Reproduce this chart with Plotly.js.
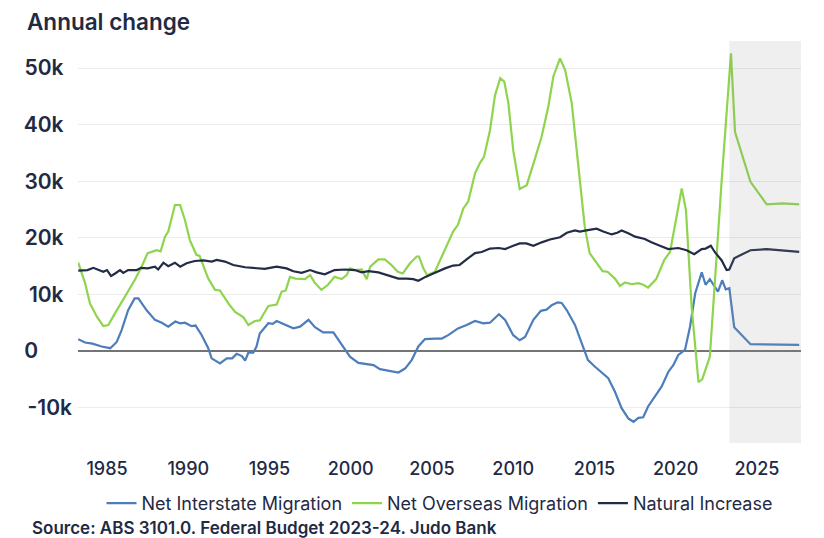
<!DOCTYPE html>
<html>
<head>
<meta charset="utf-8">
<script src="https://cdn.plot.ly/plotly-3.0.1.min.js"></script>
<style>
  html, body { margin: 0; padding: 0; background: #ffffff; }
  #chart { width: 824px; height: 538px; }
</style>
</head>
<body>
<div id="chart"></div>
<script>
// ---- Data (annual change, thousands of persons) ----
var interstateYears = [1983.23, 1983.65, 1984.1, 1984.67, 1985.2, 1985.6, 1985.9, 1986.3, 1986.7, 1986.93, 1987.44, 1987.95, 1988.37, 1988.77, 1989.2, 1989.5, 1989.8, 1990.2, 1990.45, 1990.83, 1991.23, 1991.44, 1991.95, 1992.37, 1992.7, 1992.98, 1993.3, 1993.5, 1993.7, 1994.0, 1994.2, 1994.4, 1994.93, 1995.2, 1995.44, 1995.95, 1996.47, 1996.88, 1997.4, 1997.8, 1998.3, 1998.93, 1999.34, 1999.95, 2000.47, 2001.4, 2001.8, 2002.3, 2002.93, 2003.34, 2003.75, 2004.16, 2004.57, 2005.18, 2005.6, 2006.0, 2006.6, 2007.13, 2007.65, 2008.16, 2008.57, 2009.12, 2009.5, 2010.0, 2010.4, 2010.73, 2011.24, 2011.7, 2012.05, 2012.37, 2012.73, 2012.98, 2013.3, 2013.8, 2014.2, 2014.6, 2015.0, 2015.44, 2015.85, 2016.26, 2016.67, 2017.08, 2017.4, 2017.7, 2018.0, 2018.3, 2018.7, 2019.13, 2019.54, 2019.85, 2020.16, 2020.57, 2020.88, 2021.2, 2021.6, 2021.84, 2022.1, 2022.4, 2022.6, 2022.86, 2023.08, 2023.3, 2023.6, 2024.6, 2025.6, 2026.6, 2027.6];
var interstateValues = [2.1, 1.5, 1.3, 0.8, 0.5, 1.6, 3.7, 7.2, 9.3, 9.3, 7.2, 5.5, 5.0, 4.3, 5.2, 4.9, 5.0, 4.4, 4.5, 2.8, 0.5, -1.3, -2.2, -1.3, -1.3, -0.5, -0.9, -1.7, -0.3, -0.3, 0.8, 3.1, 4.9, 4.8, 5.3, 4.6, 4.0, 4.3, 5.5, 4.2, 3.3, 3.3, 1.6, -1.0, -2.1, -2.5, -3.2, -3.5, -3.8, -3.1, -1.6, 0.8, 2.1, 2.2, 2.2, 2.8, 4.0, 4.6, 5.3, 4.9, 5.0, 6.5, 5.5, 2.8, 1.9, 2.5, 5.5, 7.1, 7.3, 8.1, 8.6, 8.5, 7.2, 4.6, 1.6, -1.6, -2.7, -3.7, -4.8, -7.2, -10.1, -11.9, -12.5, -11.8, -11.7, -9.8, -8.1, -6.3, -3.7, -2.5, -0.7, 0.2, 4.3, 10.2, 13.9, 11.7, 12.7, 11.4, 10.5, 12.5, 10.9, 11.1, 4.2, 1.2, 1.2, 1.15, 1.1];

var overseasYears = [1983.23, 1983.65, 1983.95, 1984.37, 1984.77, 1985.08, 1985.5, 1986.1, 1986.7, 1987.13, 1987.5, 1988.06, 1988.3, 1988.57, 1988.77, 1989.18, 1989.5, 1989.8, 1990.1, 1990.5, 1990.7, 1991.23, 1991.65, 1991.95, 1992.47, 1992.88, 1993.4, 1993.7, 1994.1, 1994.4, 1994.93, 1995.44, 1995.75, 1996.0, 1996.26, 1996.6, 1996.9, 1997.18, 1997.5, 1997.8, 1998.2, 1998.6, 1999.0, 1999.45, 1999.75, 1999.95, 2000.25, 2000.67, 2000.98, 2001.2, 2001.7, 2002.1, 2002.5, 2002.9, 2003.2, 2003.65, 2004.06, 2004.2, 2004.47, 2004.7, 2005.18, 2005.5, 2005.9, 2006.3, 2006.6, 2006.93, 2007.23, 2007.65, 2007.95, 2008.2, 2008.57, 2008.88, 2009.2, 2009.45, 2009.7, 2010.0, 2010.4, 2010.83, 2011.34, 2011.75, 2012.16, 2012.47, 2012.88, 2013.2, 2013.6, 2014.0, 2014.4, 2014.7, 2015.2, 2015.5, 2015.8, 2016.26, 2016.57, 2016.88, 2017.3, 2017.7, 2018.0, 2018.3, 2018.8, 2019.3, 2019.65, 2019.95, 2020.37, 2020.63, 2020.98, 2021.4, 2021.63, 2022.1, 2022.4, 2022.83, 2023.4, 2023.65, 2024.6, 2025.6, 2026.6, 2027.6];
var overseasValues = [15.6, 12.0, 8.4, 6.1, 4.4, 4.6, 6.7, 9.6, 12.5, 14.9, 17.3, 17.8, 17.6, 20.2, 21.1, 25.8, 25.8, 23.1, 19.6, 17.0, 16.8, 12.8, 10.8, 10.7, 8.4, 6.9, 5.95, 4.6, 5.3, 5.4, 7.95, 8.2, 10.5, 10.7, 13.1, 12.8, 12.7, 12.7, 13.4, 12.0, 10.8, 11.7, 13.1, 12.7, 13.4, 14.6, 14.3, 14.4, 12.7, 14.9, 16.2, 16.2, 15.2, 14.0, 13.7, 15.5, 16.7, 16.7, 14.6, 13.4, 14.0, 16.1, 18.4, 21.1, 22.3, 25.2, 26.4, 31.4, 33.2, 34.3, 39.0, 45.2, 48.2, 47.6, 43.8, 35.5, 28.6, 29.3, 34.0, 37.9, 43.2, 48.5, 51.7, 49.6, 43.8, 33.2, 22.0, 17.3, 15.2, 14.1, 14.0, 12.8, 11.5, 12.1, 11.8, 12.0, 11.7, 11.2, 12.7, 16.1, 17.5, 22.0, 28.7, 24.9, 7.8, -5.5, -5.0, -1.0, 12.5, 30.2, 52.6, 38.7, 29.9, 25.9, 26.1, 25.9];

var naturalYears = [1983.23, 1983.8, 1984.16, 1984.5, 1984.77, 1985.0, 1985.25, 1985.5, 1985.8, 1986.0, 1986.3, 1986.83, 1987.1, 1987.5, 1987.95, 1988.15, 1988.47, 1988.77, 1989.18, 1989.5, 1989.9, 1990.4, 1990.93, 1991.45, 1991.75, 1992.26, 1992.77, 1993.5, 1994.2, 1994.7, 1995.44, 1996.05, 1996.47, 1996.98, 1997.5, 1997.9, 1998.4, 1999.0, 1999.65, 2000.25, 2000.67, 2001.1, 2001.7, 2002.3, 2002.93, 2003.45, 2003.85, 2004.16, 2004.6, 2005.08, 2005.5, 2005.8, 2006.3, 2006.7, 2007.23, 2007.65, 2008.06, 2008.57, 2009.1, 2009.5, 2010.0, 2010.4, 2010.8, 2011.24, 2011.75, 2012.26, 2012.88, 2013.3, 2013.8, 2014.1, 2014.5, 2015.13, 2015.54, 2016.06, 2016.4, 2016.67, 2017.08, 2017.5, 2018.1, 2018.5, 2019.03, 2019.54, 2020.16, 2020.67, 2021.14, 2021.6, 2021.84, 2022.16, 2022.4, 2022.83, 2023.13, 2023.3, 2023.6, 2024.6, 2025.6, 2026.6, 2027.6];
var naturalValues = [14.2, 14.3, 14.7, 14.3, 14.0, 14.3, 13.25, 13.7, 14.3, 13.8, 14.3, 14.3, 14.7, 14.6, 14.9, 14.4, 15.6, 15.0, 15.6, 14.9, 15.5, 15.9, 16.0, 15.8, 16.1, 15.8, 15.2, 14.8, 14.6, 14.5, 14.9, 14.6, 14.1, 13.8, 14.3, 13.9, 13.55, 14.3, 14.4, 14.3, 13.9, 14.1, 13.9, 13.4, 12.8, 12.8, 12.7, 12.4, 13.1, 13.7, 14.3, 14.6, 15.1, 15.2, 16.4, 17.3, 17.5, 18.1, 18.2, 18.0, 18.6, 19.0, 19.0, 18.6, 19.2, 19.7, 20.1, 20.9, 21.3, 21.1, 21.3, 21.6, 21.1, 20.6, 20.9, 21.3, 20.8, 20.2, 19.8, 19.2, 18.6, 18.0, 18.2, 17.8, 17.1, 18.0, 18.1, 18.6, 17.5, 16.0, 14.3, 14.4, 16.4, 17.8, 18.0, 17.8, 17.5];

var seriesNames = ['Net Interstate Migration', 'Net Overseas Migration', 'Natural Increase'];
var yTickVals = [-10, 0, 10, 20, 30, 40, 50];
var yTickText = ['-10k', '0\u2007\u2007\u2008', '10k\u2008\u200A', '20k\u2008\u200A', '30k\u2008\u200A', '40k\u2008\u200A', '50k\u2008\u200A'];
var xTickVals = [1985, 1990, 1995, 2000, 2005, 2010, 2015, 2020, 2025];
var xTickText = ['1985', '1990', '1995', '2000', '2005', '2010', '2015', '2020', '2025'];
var forecastStart = 2023.3;
var chartTitle = 'Annual change';
var sourceText = 'Source: ABS 3101.0. Federal Budget 2023-24. Judo Bank';

// ---- Styling ----
var ink = '#1f2a44';
var colors = ['#4d7dbb', '#8fd44d', '#232c47'];
var xRange = [1983.215, 2027.71];
var yRange = [-16.25, 54.77];

var traces = [
  {x: interstateYears, y: interstateValues, name: seriesNames[0], type: 'scatter', mode: 'lines',
   line: {color: colors[0], width: 2.2}},
  {x: overseasYears, y: overseasValues, name: seriesNames[1], type: 'scatter', mode: 'lines',
   line: {color: colors[1], width: 2.2}},
  {x: naturalYears, y: naturalValues, name: seriesNames[2], type: 'scatter', mode: 'lines',
   line: {color: colors[2], width: 2.2}}
];

var layout = {
  width: 824, height: 538,
  margin: {l: 78, r: 23, t: 41, b: 95},
  paper_bgcolor: '#ffffff', plot_bgcolor: '#ffffff',
  font: {family: 'Inter, "Noto Sans", sans-serif', color: ink},
  title: {text: chartTitle, x: 27/824, xanchor: 'left', xref: 'container', y: 1 - 22/538, yanchor: 'middle', yref: 'container',
          font: {family: 'Inter, sans-serif', size: 22.5, weight: 600, color: ink}},
  showlegend: true,
  legend: {orientation: 'h', x: 0.5, xanchor: 'center', y: -0.1045, yanchor: 'top',
           font: {family: 'Inter, sans-serif', size: 18, color: ink}, traceorder: 'normal',
           itemwidth: 30, bgcolor: 'rgba(0,0,0,0)'},
  xaxis: {range: xRange, tickvals: xTickVals, ticktext: xTickText, showgrid: false, zeroline: false,
          showline: false, ticks: '', ticklabelstandoff: 13, fixedrange: true,
          tickfont: {family: 'Inter, sans-serif', size: 18, weight: 500, color: ink}},
  yaxis: {range: yRange, tickvals: yTickVals, ticktext: yTickText, showgrid: true, gridcolor: '#ececec',
          gridwidth: 1, zeroline: true, zerolinecolor: '#747474', zerolinewidth: 1.5, showline: false,
          ticks: '', ticklabelstandoff: 5, fixedrange: true,
          tickfont: {family: 'Inter, sans-serif', size: 21, weight: 600, color: ink}},
  shapes: [
    {type: 'rect', xref: 'x', yref: 'paper', x0: forecastStart, x1: xRange[1], y0: 0, y1: 1,
     fillcolor: 'rgba(150,150,150,0.15)', line: {width: 0}, layer: 'above'}
  ],
  annotations: [
    {text: sourceText, xref: 'paper', yref: 'paper', x: -48/723, y: -85/402, xanchor: 'left', yanchor: 'middle',
     showarrow: false, font: {family: 'Inter, sans-serif', size: 17, weight: 600, color: ink}}
  ]
};

Plotly.newPlot('chart', traces, layout, {displayModeBar: false, staticPlot: true});
</script>
</body>
</html>
